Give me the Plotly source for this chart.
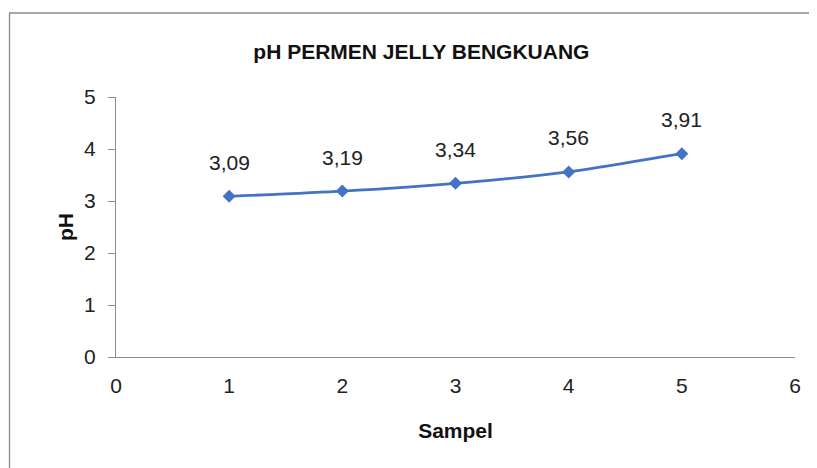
import plotly.graph_objects as go

sampel = [1, 2, 3, 4, 5]
ph = [3.09, 3.19, 3.34, 3.56, 3.91]
labels = ["3,09", "3,19", "3,34", "3,56", "3,91"]

FONT = "Liberation Sans, Arial, sans-serif"
FS = 21
fig = go.Figure()
fig.add_trace(go.Scatter(
    x=sampel, y=ph, mode="lines+markers",
    line=dict(color="#4472C4", width=2.8, shape="spline", smoothing=0.6),
    marker=dict(symbol="diamond", size=10, color="#4472C4"),
    hoverinfo="skip", showlegend=False,
))
for xv, yv, t in zip(sampel, ph, labels):
    fig.add_annotation(x=xv, y=yv, text=t, showarrow=False, yshift=34,
                       font=dict(family=FONT, size=FS, color="#222"))

fig.update_layout(
    width=817, height=468,
    margin=dict(l=108, r=30, t=89, b=119),
    paper_bgcolor="white", plot_bgcolor="white",
    separators=",.",
    font=dict(family=FONT, color="#222"),
    title=dict(text="<b>pH PERMEN JELLY BENGKUANG</b>", x=0.506, xanchor="center",
               y=0.906, yanchor="middle", font=dict(family=FONT, size=FS, color="#111")),
    xaxis=dict(range=[0, 6], dtick=1, showgrid=False, zeroline=False,
               showline=True, linecolor="#8c8c8c", linewidth=1.3, ticks="",
               tickfont=dict(family=FONT, size=FS, color="#222"), ticklabelstandoff=10,
               title=dict(text="<b>Sampel</b>", font=dict(family=FONT, size=FS, color="#111"), standoff=26)),
    yaxis=dict(range=[0, 5], dtick=1, showgrid=False, zeroline=False,
               showline=True, linecolor="#8c8c8c", linewidth=1.3, ticks="outside",
               ticklen=7, tickcolor="#8c8c8c", ticklabelstandoff=8,
               tickfont=dict(family=FONT, size=FS, color="#222"),
               title=dict(text="<b>pH</b>", font=dict(family=FONT, size=FS, color="#111"), standoff=4)),
    shapes=[dict(type="rect", xref="paper", yref="paper", x0=-0.1568, x1=1.06, y0=-0.5, y1=1.323,
                 line=dict(color="#8a8a8a", width=1.3), fillcolor="rgba(0,0,0,0)", layer="below")],
)
fig.write_html("out.html")
